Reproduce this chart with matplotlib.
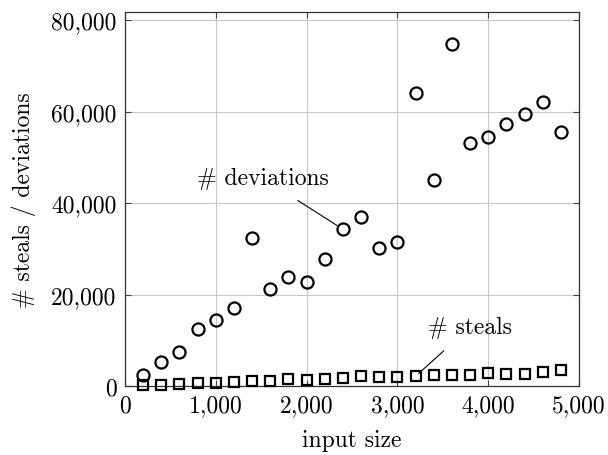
import matplotlib
matplotlib.use("Agg")
import matplotlib.pyplot as plt
from matplotlib.ticker import FuncFormatter

plt.rcParams['font.family'] = 'serif'
plt.rcParams['font.serif'] = ['cmr10', 'DejaVu Serif']
plt.rcParams['mathtext.fontset'] = 'cm'
plt.rcParams['axes.unicode_minus'] = False

input_size = [200, 400, 600, 800, 1000, 1200, 1400, 1600, 1800, 2000, 2200, 2400,
              2600, 2800, 3000, 3200, 3400, 3600, 3800, 4000, 4200, 4400, 4600, 4800]
deviations = [2540, 5390, 7450, 12550, 14370, 17090, 32420, 21160, 23790, 22700, 27890, 34300,
              37020, 30300, 31460, 64030, 45040, 74760, 53140, 54330, 57240, 59360, 62120, 55490]
steals = [250, 350, 450, 720, 800, 1000, 1160, 1160, 1530, 1380, 1670, 1820,
          2260, 1970, 1950, 2190, 2540, 2540, 2540, 2900, 2600, 2600, 3200, 3500]

xticks = [0, 1000, 2000, 3000, 4000, 5000]
yticks = [0, 20000, 40000, 60000, 80000]

FS = 17

fig = plt.figure(figsize=(6.08, 4.56), dpi=100)
ax = fig.add_axes([125/608, 1 - 387.3/456, (579-125)/608, (387.3-12.7)/456])

ax.plot(input_size, deviations, linestyle='none', marker='o', markersize=8.7,
        markerfacecolor='none', markeredgecolor='black', markeredgewidth=1.6, zorder=3, clip_on=False)
ax.plot(input_size, steals, linestyle='none', marker='s', markersize=7.7,
        markerfacecolor='none', markeredgecolor='black', markeredgewidth=1.6, zorder=3, clip_on=False)

ax.set_xlim(0, 5000)
ax.set_ylim(0, 81800)
ax.set_xticks(xticks)
ax.set_yticks(yticks)
fmt = FuncFormatter(lambda v, p: f"{v:,.0f}")
ax.xaxis.set_major_formatter(fmt)
ax.yaxis.set_major_formatter(fmt)
ax.grid(True, color='#c8c8c8', linewidth=0.8)
ax.set_axisbelow(True)
ax.tick_params(direction='in', top=True, right=True, labelsize=FS, length=4, width=0.8,
               colors='#444444', labelcolor='black', pad=6)
for s in ax.spines.values():
    s.set_linewidth(0.9)
    s.set_color('#333333')

ax.set_xlabel('input size', fontsize=FS, labelpad=9)
ax.set_ylabel('# steals / deviations', fontsize=FS, labelpad=11)

ax.annotate('# deviations', xy=(input_size[11], deviations[11]), xytext=(1521, 45400),
            fontsize=FS, ha='center', va='center',
            arrowprops=dict(arrowstyle='-', color='black', lw=0.8, shrinkA=11, shrinkB=5))
ax.annotate('# steals', xy=(input_size[15], steals[15]), xytext=(3804, 13000),
            fontsize=FS, ha='center', va='center',
            arrowprops=dict(arrowstyle='-', color='black', lw=0.8, shrinkA=11, shrinkB=3))

fig.savefig('out.png', dpi=100)
